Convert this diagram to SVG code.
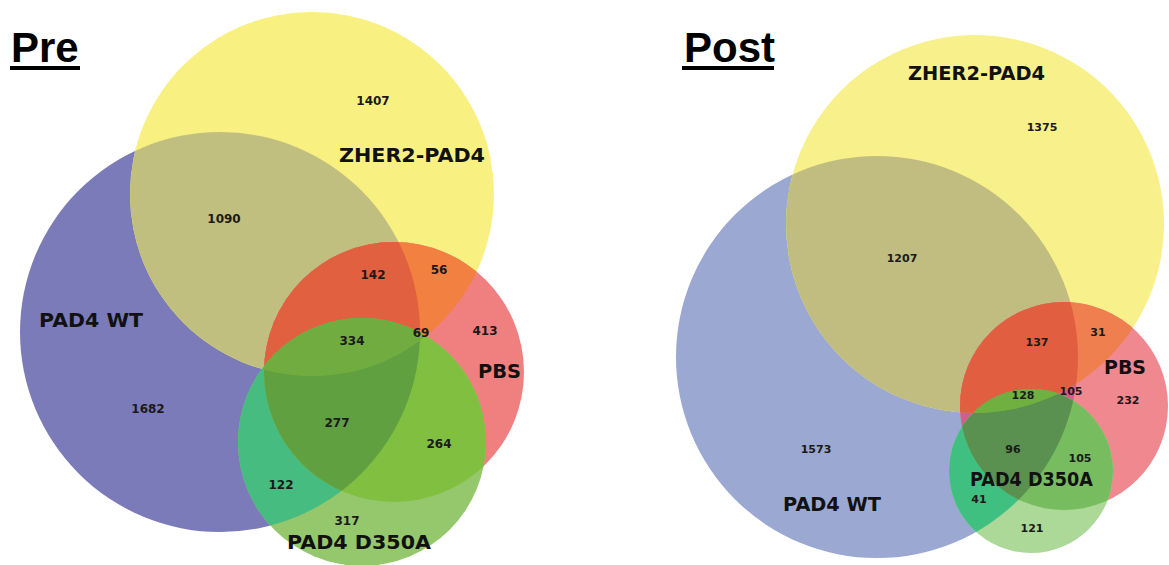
<svg xmlns="http://www.w3.org/2000/svg" width="1169" height="565" viewBox="0 0 1169 565">
<style>
.t{font-family:"Liberation Sans",Arial,sans-serif;font-weight:bold;font-size:42px;fill:#000}
.n{font-family:"DejaVu Sans",Verdana,sans-serif;font-weight:bold;font-size:12px;fill:#1a1a1a;text-anchor:middle}
.n2{font-family:"DejaVu Sans",Verdana,sans-serif;font-weight:bold;font-size:11px;fill:#1a1a1a;text-anchor:middle}
.l{font-family:"DejaVu Sans",Verdana,sans-serif;font-weight:bold;font-size:20px;fill:#111}
</style>
<defs>
<clipPath id="cY1"><circle cx="312" cy="194" r="182"/></clipPath>
<clipPath id="cB1"><circle cx="220" cy="332" r="200"/></clipPath>
<clipPath id="cR1"><circle cx="394" cy="372" r="130"/></clipPath>
<clipPath id="cG1"><circle cx="362" cy="442" r="124"/></clipPath>
<clipPath id="cY2"><circle cx="975" cy="224" r="189"/></clipPath>
<clipPath id="cB2"><circle cx="877" cy="357" r="201"/></clipPath>
<clipPath id="cR2"><circle cx="1064" cy="406" r="104"/></clipPath>
<clipPath id="cG2"><circle cx="1031" cy="471" r="82"/></clipPath>
</defs>
<rect width="1169" height="565" fill="#fff"/>

<g id="pre">
<text class="t" x="11" y="62">Pre</text>
<rect x="10" y="66" width="70" height="4" fill="#000"/>
<g id="pre-pad4wt"><circle cx="220" cy="332" r="200" fill="#7b7bb9"/></g>
<g id="pre-zher2"><circle cx="312" cy="194" r="182" fill="#f8f081"/>
<circle cx="312" cy="194" r="182" fill="#c0bf80" clip-path="url(#cB1)"/></g>
<g id="pre-pbs"><circle cx="394" cy="372" r="130" fill="#f07f80"/>
<circle cx="394" cy="372" r="130" fill="#c4608a" clip-path="url(#cB1)"/>
<circle cx="394" cy="372" r="130" fill="#f28040" clip-path="url(#cY1)"/>
<g clip-path="url(#cB1)"><circle cx="394" cy="372" r="130" fill="#e0603f" clip-path="url(#cY1)"/></g></g>
<g id="pre-d350a"><circle cx="362" cy="442" r="124" fill="#95c86c"/>
<circle cx="362" cy="442" r="124" fill="#46bc80" clip-path="url(#cB1)"/>
<circle cx="362" cy="442" r="124" fill="#80bf40" clip-path="url(#cR1)"/>
<g clip-path="url(#cB1)"><circle cx="362" cy="442" r="124" fill="#60a040" clip-path="url(#cR1)"/></g>
<g clip-path="url(#cY1)"><circle cx="362" cy="442" r="124" fill="#78b040" clip-path="url(#cR1)"/></g>
<g clip-path="url(#cB1)"><g clip-path="url(#cY1)"><circle cx="362" cy="442" r="124" fill="#70ac40" clip-path="url(#cR1)"/></g></g></g>
<g id="pre-labels">
<text class="l" x="339" y="162" textLength="146" lengthAdjust="spacingAndGlyphs">ZHER2-PAD4</text>
<text class="l" x="39" y="327" textLength="104" lengthAdjust="spacingAndGlyphs">PAD4 WT</text>
<text class="l" x="478" y="378" textLength="43" lengthAdjust="spacingAndGlyphs">PBS</text>
<text class="l" x="287" y="549" textLength="144" lengthAdjust="spacingAndGlyphs">PAD4 D350A</text>
<text class="n" x="373" y="105">1407</text>
<text class="n" x="224" y="223">1090</text>
<text class="n" x="373" y="279">142</text>
<text class="n" x="439" y="274">56</text>
<text class="n" x="421" y="337">69</text>
<text class="n" x="485" y="335">413</text>
<text class="n" x="352" y="345">334</text>
<text class="n" x="148" y="413">1682</text>
<text class="n" x="337" y="427">277</text>
<text class="n" x="439" y="448">264</text>
<text class="n" x="281" y="489">122</text>
<text class="n" x="347" y="525">317</text>
</g>
</g>

<g id="post">
<text class="t" x="684" y="62">Post</text>
<rect x="682" y="66" width="92" height="4" fill="#000"/>
<g id="post-pad4wt"><circle cx="877" cy="357" r="201" fill="#9aa8d2"/></g>
<g id="post-zher2"><circle cx="975" cy="224" r="189" fill="#f8f08a"/>
<circle cx="975" cy="224" r="189" fill="#c1bd80" clip-path="url(#cB2)"/></g>
<g id="post-pbs"><circle cx="1064" cy="406" r="104" fill="#f08890"/>
<circle cx="1064" cy="406" r="104" fill="#d0608a" clip-path="url(#cB2)"/>
<circle cx="1064" cy="406" r="104" fill="#f07f50" clip-path="url(#cY2)"/>
<g clip-path="url(#cB2)"><circle cx="1064" cy="406" r="104" fill="#e25e40" clip-path="url(#cY2)"/></g></g>
<g id="post-d350a"><circle cx="1031" cy="471" r="82" fill="#acd898"/>
<circle cx="1031" cy="471" r="82" fill="#40c080" clip-path="url(#cB2)"/>
<circle cx="1031" cy="471" r="82" fill="#78bc60" clip-path="url(#cR2)"/>
<g clip-path="url(#cB2)"><circle cx="1031" cy="471" r="82" fill="#5a9050" clip-path="url(#cR2)"/></g>
<g clip-path="url(#cY2)"><circle cx="1031" cy="471" r="82" fill="#78b040" clip-path="url(#cR2)"/></g>
<g clip-path="url(#cB2)"><g clip-path="url(#cY2)"><circle cx="1031" cy="471" r="82" fill="#70b040" clip-path="url(#cR2)"/></g></g></g>
<g id="post-labels">
<text class="l" x="908" y="80" font-size="19" textLength="137" lengthAdjust="spacingAndGlyphs">ZHER2-PAD4</text>
<text class="l" x="1104" y="374" font-size="19" textLength="42" lengthAdjust="spacingAndGlyphs">PBS</text>
<text class="l" x="970" y="486" font-size="18" textLength="123" lengthAdjust="spacingAndGlyphs">PAD4 D350A</text>
<text class="l" x="783" y="511" font-size="19" textLength="98" lengthAdjust="spacingAndGlyphs">PAD4 WT</text>
<text class="n2" x="1042" y="131">1375</text>
<text class="n2" x="902" y="262">1207</text>
<text class="n2" x="1037" y="346">137</text>
<text class="n2" x="1098" y="336">31</text>
<text class="n2" x="1023" y="399">128</text>
<text class="n2" x="1071" y="395">105</text>
<text class="n2" x="1128" y="404">232</text>
<text class="n2" x="816" y="453">1573</text>
<text class="n2" x="1013" y="453">96</text>
<text class="n2" x="1080" y="462">105</text>
<text class="n2" x="979" y="503">41</text>
<text class="n2" x="1032" y="532">121</text>
</g>
</g>
</svg>
